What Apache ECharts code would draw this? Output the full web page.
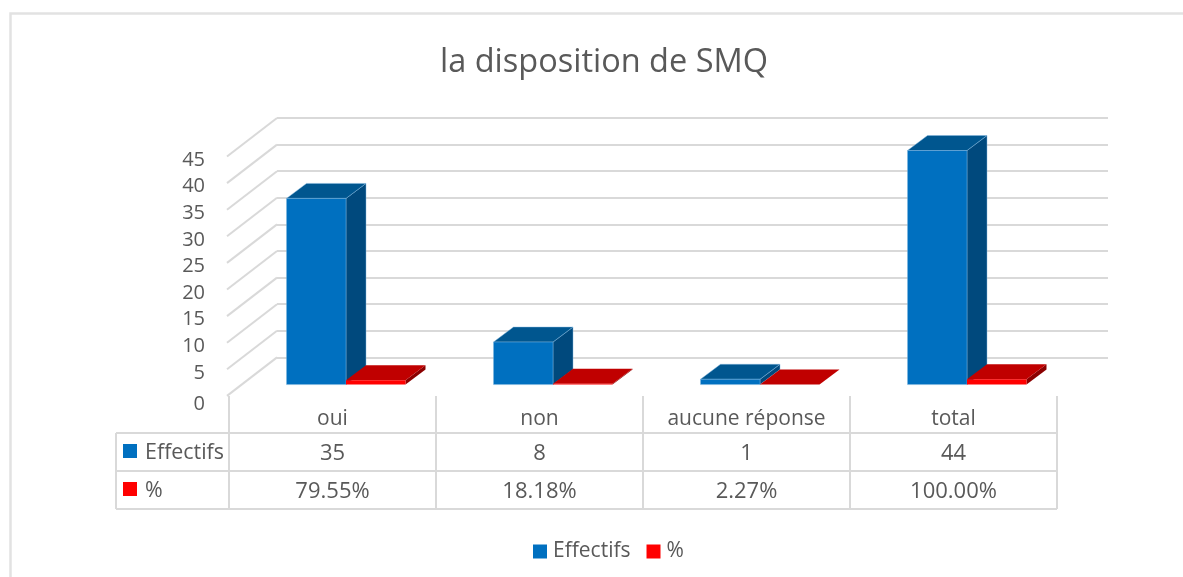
<!DOCTYPE html>
<html><head><meta charset="utf-8">
<style>html,body{margin:0;padding:0;background:#fff}#c{width:1183px;height:577px}</style>
<script src="https://cdn.jsdelivr.net/npm/echarts@6/dist/echarts.min.js"></script>
</head><body><div id="c"></div>
<script>
const categories = ['oui','non','aucune réponse','total'];
const effectifs = [35,8,1,44];
const pourcent = [0.7955,0.1818,0.0227,1];
const pourcentLabels = ['79.55%','18.18%','2.27%','100.00%'];
const yTicks = [0,5,10,15,20,25,30,35,40,45];
const seriesNames = ['Effectifs','%'];
const seriesColors = ['#0070C0','#FF0000'];

const FONT = '"Open Sans","Noto Sans",sans-serif', TXT = '#595959', LINE = '#D9D9D9';
const chart = echarts.init(document.getElementById('c'), null, {renderer:'canvas'});

function bar3d(side, front, top, right, edge){
  return function(params, api){
    const i = api.value(0), v = api.value(1);
    const base = api.coord([i,0]), tip = api.coord([i,v]);
    const w = api.size([1,0])[0]*0.2875, dx=20, dy=15;
    const x0 = side<0 ? base[0]-w : base[0], x1 = x0+w, y0 = base[1], y1 = tip[1];
    const st = edge ? {stroke:edge, lineWidth:1} : {};
    const poly = (pts, fill) => ({type:'polygon', shape:{points:pts}, style:Object.assign({fill}, st)});
    return {type:'group', children:[
      poly([[x1,y0],[x1+dx,y0-dy],[x1+dx,y1-dy],[x1,y1]], right),
      poly([[x0,y1],[x0+dx,y1-dy],[x1+dx,y1-dy],[x1,y1]], top),
      poly([[x0,y0],[x1,y0],[x1,y1],[x0,y1]], front)
    ]};
  };
}

const option = {
  animation:false,
  backgroundColor:'#fff',
  title:{text:'la disposition de SMQ', left:599, top:41, textAlign:'center',
    textStyle:{fontFamily:FONT,fontSize:32.5,fontWeight:'normal',color:TXT}},
  legend:{data:seriesNames, left:528, top:536, icon:'rect', itemWidth:14, itemHeight:14, itemGap:16,
    textStyle:{fontFamily:FONT,fontSize:21,color:TXT,padding:[0,0,0,1]}},
  grid:[
    {left:277,right:75,top:118,height:239.4},   // back wall
    {left:229,width:828,top:156.5,height:239.4}, // front plane
    {left:242.5,width:828,top:145.2,height:239.4} // plane of the bars
  ],
  xAxis:[
    {gridIndex:0,type:'category',data:categories,show:false},
    {gridIndex:1,type:'category',data:categories,axisTick:{show:false},axisLine:{show:false},
      axisLabel:{fontFamily:FONT,fontSize:21,color:TXT,margin:13,interval:0}},
    {gridIndex:2,type:'category',data:categories,show:false}
  ],
  yAxis:[
    {gridIndex:0,type:'value',min:0,max:45,interval:5,axisLine:{show:false},axisTick:{show:false},axisLabel:{show:false},
      splitLine:{show:true,lineStyle:{color:LINE,width:2}}},
    {gridIndex:1,type:'value',min:0,max:45,interval:5,axisLine:{show:false},axisTick:{show:false},splitLine:{show:false},
      axisLabel:{fontFamily:FONT,fontSize:20,color:TXT,margin:24,padding:[7,0,0,0],
        formatter:v=>v===0?'{z|0}':String(v),
        rich:{z:{fontFamily:FONT,fontSize:20,color:TXT,padding:[10,0,0,0]}}}},
    {gridIndex:2,type:'value',min:0,max:45,show:false}
  ],
  series:[
    {type:'custom',silent:true,xAxisIndex:0,yAxisIndex:0,z:1,data:yTicks,encode:{y:0},
      renderItem(params,api){
        const v=api.value(0), p=api.coord([0,v]), x=params.coordSys.x;
        return {type:'line',shape:{x1:x,y1:p[1],x2:x-50,y2:p[1]+38.5},style:{stroke:LINE,lineWidth:2}};
      }},
    {name:seriesNames[0],type:'custom',xAxisIndex:2,yAxisIndex:2,z:3,itemStyle:{color:seriesColors[0]},
      data:effectifs.map((v,i)=>[i,v]),encode:{x:0,y:1},
      renderItem:bar3d(-1,'#0070C0','#00568F','#00497D','rgba(130,185,225,.45)')},
    {name:seriesNames[1],type:'custom',xAxisIndex:2,yAxisIndex:2,z:4,itemStyle:{color:seriesColors[1]},
      data:pourcent.map((v,i)=>[i,v]),encode:{x:0,y:1},
      renderItem:bar3d(1,'#FF0000','#C00000','#8B0000',null)},
    {type:'custom',silent:true,xAxisIndex:1,yAxisIndex:1,z:2,
      data:categories.map((c,i)=>[i,effectifs[i],pourcentLabels[i]]),encode:{x:0},
      renderItem(params,api){
        const i=api.value(0), cs=params.coordSys, band=cs.width/categories.length, cx=api.coord([i,0])[0], y0=cs.y+cs.height;
        const txt=(t,y,x,align,size)=>({type:'text',style:{text:String(t),x:x,y:y,align:align||'center',verticalAlign:'middle',font:(size||22)+'px '+FONT,fill:TXT}});
        const ln=(x1,y1,x2,y2)=>({type:'line',shape:{x1,y1,x2,y2},style:{stroke:LINE,lineWidth:2}});
        const kids=[txt(effectifs[i],454,cx),txt(pourcentLabels[i],492,cx),
          ln(cx+band/2,y0,cx+band/2,509),ln(cx-band/2,433,cx+band/2,433),ln(cx-band/2,471,cx+band/2,471),ln(cx-band/2,509,cx+band/2,509)];
        if(i===0){
          const L=116,R=cx-band/2;
          kids.push(ln(R,y0,R,509),ln(L,433,L,509),ln(L,433,R,433),ln(L,471,R,471),ln(L,509,R,509),
            {type:'rect',shape:{x:123,y:444,width:14,height:14},style:{fill:seriesColors[0]}},
            {type:'rect',shape:{x:123,y:482,width:14,height:14},style:{fill:seriesColors[1]}},
            txt(seriesNames[0],453,145,'left',21.4),txt(seriesNames[1],491,145,'left',21.4));
        }
        return {type:'group',children:kids};
      }}
  ],
  graphic:[{type:'polyline',silent:true,z:-1,shape:{points:[[10.5,577],[10.5,13.5],[1183,13.5]]},style:{stroke:'#E2E2E2',fill:null,lineWidth:2.5}}]
};
chart.setOption(option);
</script></body></html>
